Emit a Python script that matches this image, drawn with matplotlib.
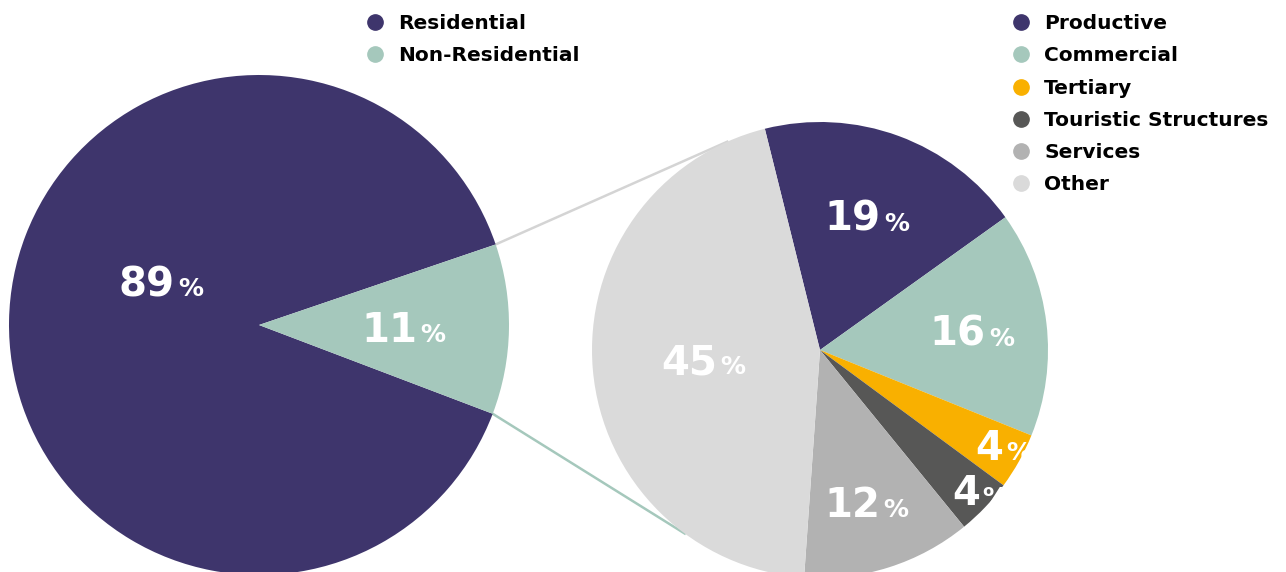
import numpy as np
import matplotlib
matplotlib.use("Agg")
import matplotlib.pyplot as plt
from matplotlib.lines import Line2D

# ---- data ----
main_labels = ["Residential", "Non-Residential"]
main_values = [89, 11]
main_colors = ["#3E356C", "#A5C8BC"]

sub_labels = ["Productive", "Commercial", "Tertiary", "Touristic Structures", "Services", "Other"]
sub_values = [19, 16, 4, 4, 12, 45]
sub_colors = ["#3E356C", "#A5C8BC", "#F9B000", "#575756", "#B2B2B2", "#DADADA"]

W, H = 1286, 572
fig = plt.figure(figsize=(W / 100, H / 100), dpi=100)
ax = fig.add_axes([0, 0, 1, 1])

FONT = ["DejaVu Sans"]

# left pie
c1 = (259, H - 325)
r1 = 250
w1, _ = ax.pie(main_values, colors=main_colors, startangle=18.8, counterclock=True,
               center=c1, radius=r1, frame=True,
               wedgeprops=dict(linewidth=0))

# right pie
c2 = (820, H - 350)
r2 = 228
w2, _ = ax.pie(sub_values, colors=sub_colors, startangle=104, counterclock=False,
               center=c2, radius=r2, frame=True,
               wedgeprops=dict(linewidth=0))
ax.set_xlim(0, W)
ax.set_ylim(0, H)
ax.set_aspect("equal")
ax.axis("off")


def pt(c, r, ang):
    a = np.deg2rad(ang)
    return c[0] + r * np.cos(a), c[1] + r * np.sin(a)


# connector lines
nr = w1[1]
p_top = pt(c1, r1, nr.theta2)
p_bot = pt(c1, r1, nr.theta1)
q_top = pt(c2, r2, 114)
q_bot = pt(c2, r2, 233.6)
ax.plot([p_top[0], q_top[0]], [p_top[1], q_top[1]], color="#D4D4D4", lw=1.8, zorder=0.5)
ax.plot([p_bot[0], q_bot[0]], [p_bot[1], q_bot[1]], color="#A5C8BC", lw=1.8, zorder=0.5)


def pct_label(x, y, val, big=29, small=18):
    ax.text(x, y, f"{val}", ha="right", va="baseline", color="white",
            fontsize=big, fontweight="bold", family=FONT, zorder=5)
    ax.text(x + 3, y, "%", ha="left", va="baseline", color="white",
            fontsize=small, fontweight="bold", family=FONT, zorder=5)


# left labels (angle, radius)
left_pos = [(156, 105), (None, 146)]
for w, v, (ang, rr) in zip(w1, main_values, left_pos):
    if ang is None:
        ang = (w.theta1 + w.theta2) / 2
    x, y = pt(c1, rr, ang)
    pct_label(x + 12, y - 14, v)

right_rad = [142, 155, 196, 204, 160, 115]
for w, v, rr in zip(w2, sub_values, right_rad):
    ang = (w.theta1 + w.theta2) / 2
    x, y = pt(c2, rr, ang)
    pct_label(x + 12, y - 14, v)

# legends
def make_handles(colors):
    return [Line2D([], [], marker="o", linestyle="", markersize=11,
                   markerfacecolor=c, markeredgecolor=c) for c in colors]

leg_kw = dict(frameon=False, handlelength=0.75, handletextpad=0.8, labelspacing=0.66,
              borderaxespad=0, borderpad=0,
              prop=dict(family=FONT, weight="bold", size=14.5))
l1 = ax.legend(make_handles(main_colors), main_labels, loc="upper left",
               bbox_to_anchor=(367 / W, 1 - 14 / H), **leg_kw)
ax.add_artist(l1)
l2 = ax.legend(make_handles(sub_colors), sub_labels, loc="upper left",
               bbox_to_anchor=(1013 / W, 1 - 14 / H), **leg_kw)

fig.savefig("out.png", dpi=100)
